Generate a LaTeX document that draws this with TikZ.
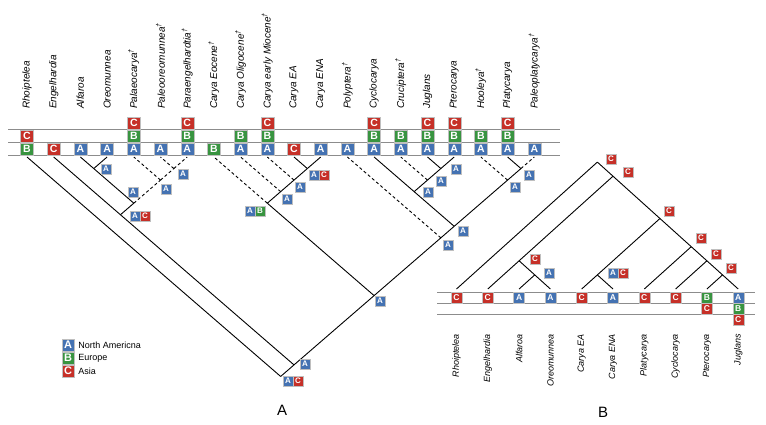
\documentclass[tikz,border=0pt]{standalone}
\usepackage{fontspec}
\setmainfont{Liberation Sans}
\usetikzlibrary{positioning}
\definecolor{colA}{RGB}{68,114,178}
\definecolor{colB}{RGB}{56,148,64}
\definecolor{colC}{RGB}{198,48,40}
\newcommand{\fos}{\textsuperscript{†}}
\tikzset{
  branch/.style={line width=0.9pt},
  fossil/.style={branch, dash pattern=on 3pt off 2.5pt},
  hline/.style={black!45, line width=0.8pt},
  statebox/.style={inner sep=0pt, text=white, draw=black!25, line width=0.3pt},
  leafbox/.style={statebox, minimum width=13pt, minimum height=12pt, font=\bfseries\fontsize{10.5}{10}\selectfont},
  leafboxb/.style={statebox, minimum width=11pt, minimum height=10.5pt, font=\bfseries\fontsize{8.5}{8}\selectfont},
  nodebox/.style={statebox, minimum width=10pt, minimum height=10pt, font=\bfseries\fontsize{8}{8}\selectfont},
  keybox/.style={statebox, minimum width=12pt, minimum height=12pt, font=\bfseries\fontsize{11}{11}\selectfont},
  taxon/.style={rotate=90, anchor=west, inner sep=0pt, font=\itshape\fontsize{10}{10}\selectfont},
  taxonb/.style={rotate=90, anchor=east, inner sep=0pt, font=\itshape\fontsize{9}{9}\selectfont}
}
\begin{document}
\begin{tikzpicture}[x=1pt,y=-1pt]
\useasboundingbox (0,0) rectangle (766,425);
    % state rows
        \foreach \y in {129,142,155} \draw[hline] (8,\y) -- (560,\y);
        \foreach \y in {292,303,314} \draw[hline] (437,\y) -- (755,\y);
    % tree A: taxa and states
        \foreach \i/\t in {0/Rhoiptelea,1/Engelhardia,2/Alfaroa,3/Oreomunnea,4/Palaeocarya\fos,
            5/Paleooreomunnea\fos,6/Paraengelhardtia\fos,7/Carya Eocene\fos,8/Carya Oligocene\fos,
            9/Carya early Miocene\fos,10/Carya EA,11/Carya ENA,12/Polyptera\fos,13/Cyclocarya,
            14/Cruciptera\fos,15/Juglans,16/Pterocarya,17/Hooleya\fos,18/Platycarya,19/Paleoplatycarya\fos}{
            \node[taxon] (ta\i) at ({27+26.7*\i},109) {\t};
        }
        \foreach \i/\r/\c in {0/0/B,0/1/C,1/0/C,2/0/A,3/0/A,4/0/A,4/1/B,4/2/C,5/0/A,6/0/A,6/1/B,6/2/C,
            7/0/B,8/0/A,8/1/B,9/0/A,9/1/B,9/2/C,10/0/C,11/0/A,12/0/A,13/0/A,13/1/B,13/2/C,14/0/A,14/1/B,
            15/0/A,15/1/B,15/2/C,16/0/A,16/1/B,16/2/C,17/0/A,17/1/B,18/0/A,18/1/B,18/2/C,19/0/A}{
            \node[leafbox,fill=col\c] (sa\i-\r) at ({27+26.7*\i},{149-13*\r}) {\c};
        }
    % tree A: branches
        \foreach \n/\a/\b in {r/0/19,n1/1/19,eng/1/6,alf/2/6,ao/2/3,fos/4/6,fo2/5/6,jug/7/19,car/7/11,
            c2/8/11,c3/9/11,c4/10/11,ply/12/19,cy/13/19,jn/13/16,cr/14/16,jp/15/16,pla/17/19,pp/18/19}{
            \coordinate (\n) at ({27+13.35*(\a+\b)},{157+11.55*(\b-\a)});
        }
        \foreach \i in {0,...,19} \coordinate (la\i) at ({27+26.7*\i},157);
        \foreach \p/\c in {r/la0,r/n1,n1/eng,n1/jug,eng/la1,eng/alf,alf/ao,ao/la2,ao/la3,jug/car,jug/ply,
            car/c2,c2/c3,c3/c4,c4/la10,c4/la11,ply/cy,cy/jn,cy/pla,jn/la13,jn/cr,cr/jp,jp/la15,jp/la16,
            pla/pp,pp/la18}{
            \draw[branch] (\p) -- (\c);
        }
        \foreach \p/\c in {alf/fos,fos/la4,fos/fo2,fo2/la5,fo2/la6,car/la7,c2/la8,c3/la9,ply/la12,
            cr/la14,pla/la17,pp/la19}{
            \draw[fossil] (\p) -- (\c);
        }
    % tree A: ancestral areas
        \foreach \n/\x/\y/\c in {ao/106/169/A,fo2/183/174/A,fos/166/189/A,alf/133/192/A,eng/135/216/A,
            eng2/145/216/C,car/250/211/A,car2/260/211/B,c2/287/199/A,c3/300/187/A,c4/314/175/A,
            c42/324/175/C,jug/380/301/A,ply/448/245/A,cy/463/231/A,jn/428/192/A,cr/441/181/A,
            jp/456/169/A,pla/515/187/A,pp/529/175/A,n1/305/364/A,r/288/381/A,r2/298/381/C}{
            \node[nodebox,fill=col\c] (s\n) at (\x,\y) {\c};
        }
    % tree B: taxa and states
        \foreach \i/\t in {0/Rhoiptelea,1/Engelhardia,2/Alfaroa,3/Oreomunnea,4/Carya EA,5/Carya ENA,
            6/Platycarya,7/Cyclocarya,8/Pterocarya,9/Juglans}{
            \node[taxonb] (tb\i) at ({456.5+31.3*\i},334) {\t};
        }
        \foreach \i/\r/\c in {0/0/C,1/0/C,2/0/A,3/0/A,4/0/C,5/0/A,6/0/C,7/0/C,8/0/B,8/1/C,9/0/A,9/1/B,9/2/C}{
            \node[leafboxb,fill=col\c] (sb\i-\r) at ({456.5+31.3*\i},{297.5+11*\r}) {\c};
        }
    % tree B: branches
        \foreach \n/\a/\b in {bR/0/9,be1/1/9,beg/1/3,bao/2/3,bjd/4/9,bca/4/5,bpl/6/9,bcy/7/9,bpj/8/9}{
            \coordinate (\n) at ({456.5+15.65*(\a+\b)},{289-14.1*(\b-\a)});
        }
        \foreach \i in {0,...,9} \coordinate (lb\i) at ({456.5+31.3*\i},289);
        \foreach \p/\c in {bR/lb0,bR/be1,be1/beg,be1/bjd,beg/lb1,beg/bao,bao/lb2,bao/lb3,bjd/bca,bjd/bpl,
            bca/lb4,bca/lb5,bpl/lb6,bpl/bcy,bcy/lb7,bcy/bpj,bpj/lb8,bpj/lb9}{
            \draw[branch] (\p) -- (\c);
        }
    % tree B: ancestral areas
        \foreach \n/\x/\y/\c in {bR/611/159/C,be1/628/172/C,bjd/669/211/C,bpl/701/238/C,bcy/716/254/C,
            bpj/731/268/C,beg/535/259/C,bao/549/273/A,bca/613/273/A,bca2/623/273/C}{
            \node[nodebox,fill=col\c] (s\n) at (\x,\y) {\c};
        }
    % legend
        \foreach \r/\c/\t in {0/A/North Americna,1/B/Europe,2/C/Asia}{
            \node[keybox,fill=col\c] (k\c) at (68,{345+13*\r}) {\c};
            \node[right=4pt of k\c, inner sep=0pt, font=\fontsize{9}{9}\selectfont] (kt\c) {\t};
        }
    % panel labels
        \node[font=\fontsize{15}{15}\selectfont] (panA) at (282,410) {A};
        \node[font=\fontsize{15}{15}\selectfont] (panB) at (603,412) {B};
\end{tikzpicture}
\end{document}
